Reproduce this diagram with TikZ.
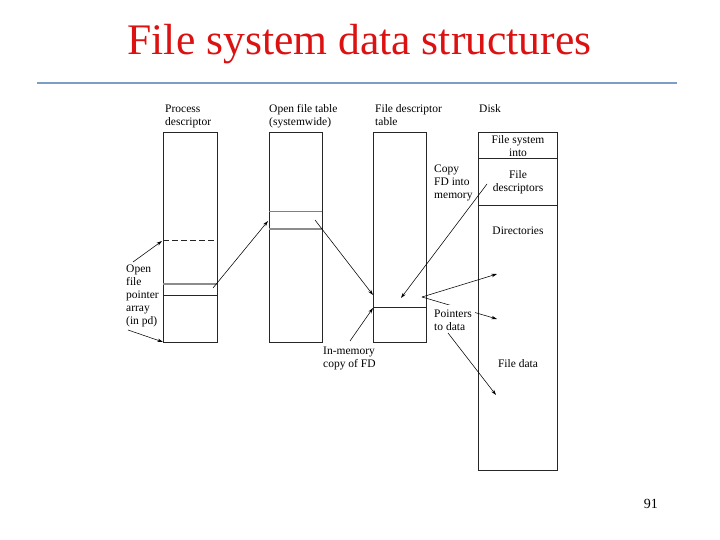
\documentclass[tikz,border=0pt]{standalone}
\usepackage{fontspec}
\setmainfont{Liberation Serif}
\usetikzlibrary{arrows.meta}
\definecolor{titlered}{RGB}{220,18,18}
\definecolor{rulebl}{RGB}{125,157,196}
\begin{document}
\begin{tikzpicture}[x=1pt,y=-1pt,
  col/.style={draw=black!85, line width=0.8pt, anchor=north west, inner sep=0},
  arr/.style={-{Stealth[length=5.5pt,width=3.4pt]}, line width=0.55pt},
  sep/.style={line width=0.8pt, draw=black!85},
  gsep/.style={line width=1.3pt, draw=black!45},
  lbl/.style={inner sep=0, align=left, anchor=north west, font=\fontsize{11.5}{13}\selectfont},
  clbl/.style={inner sep=0, align=center, anchor=north, font=\fontsize{11.5}{13}\selectfont}]
\useasboundingbox (0,0) rectangle (720,540);
% title and rule
\node[text=titlered, font=\fontsize{43.6}{50}\selectfont, anchor=base, inner sep=0] (title) at (359.5,55) {File system data structures};
\draw[rulebl, line width=1.6pt] (37,83) -- (677,83);
% columns
\node[col, minimum width=54pt, minimum height=210pt] (pd) at (163,132) {};
\node[col, minimum width=53pt, minimum height=210pt] (oft) at (269,132) {};
\node[col, minimum width=53pt, minimum height=210pt] (fdt) at (373,132) {};
\node[col, minimum width=79pt, minimum height=338pt] (disk) at (478,132) {};
% internal lines
\draw[sep, dashed, dash pattern=on 6pt off 3pt] (163,240) -- (217,240);
\draw[gsep] (163,284) -- (217,284);
\draw[sep] (163,295) -- (217,295);
\draw[line width=0.6pt, draw=black!50] (269,211) -- (322,211);
\draw[gsep] (269,229) -- (322,229);
\draw[sep] (373,307) -- (426,307);
\draw[sep] (478,158) -- (557,158);
\draw[sep] (478,205) -- (557,205);
% headings
\node[lbl] (hpd) at (165,102.9) {\strut Process\\descriptor};
\node[lbl] (hoft) at (269,102.9) {\strut Open file table\\(systemwide)};
\node[lbl] (hfdt) at (375,102.9) {\strut File descriptor\\table};
\node[lbl] (hdisk) at (479,102.9) {\strut Disk};
% disk labels
\node[clbl] (fsi) at (518,133.9) {\strut File system\\into};
\node[clbl] (fds) at (518,168.9) {\strut File\\descriptors};
\node[clbl] (dirs) at (518,224.9) {\strut Directories};
\node[clbl] (fdata) at (518,357.9) {\strut File data};
% other labels
\node[lbl] (copy) at (434,162.9) {\strut Copy\\FD into\\memory};
\node[lbl] (ofp) at (126,262.9) {\strut Open\\file\\pointer\\array\\(in pd)};
\node[lbl] (inm) at (323,344.9) {\strut In-memory\\copy of FD};
\node[font=\fontsize{14}{16}\selectfont, anchor=base east, inner sep=0] (pg) at (658,508) {91};
% connector end points
\coordinate (a1s) at (133,262); \coordinate (a1e) at (162,241);
\coordinate (a2s) at (128,330); \coordinate (a2e) at (163,342);
\coordinate (a3s) at (213,288); \coordinate (a3e) at (268,221);
\coordinate (a4s) at (315,220); \coordinate (a4e) at (373,295);
\coordinate (a5s) at (350,341); \coordinate (a5e) at (373,308);
\coordinate (a6s) at (487,184); \coordinate (a6e) at (401,298);
\coordinate (po) at (422,297);
\coordinate (a7e) at (497,274);
\coordinate (a8e) at (497,319);
\coordinate (a9s) at (448,333); \coordinate (a9e) at (496,395);
% connectors
\draw[arr] (a1s) -- (a1e);
\draw[arr] (a2s) -- (a2e);
\draw[arr] (a3s) -- (a3e);
\draw[arr] (a4s) -- (a4e);
\draw[arr] (a5s) -- (a5e);
\draw[arr] (a6s) -- (a6e);
\draw[arr] (po) -- (a7e);
\draw[arr] (po) -- (a8e);
% label over the line, with white backing
\node[lbl, fill=white, inner sep=3pt] (ptd) at (431,304.9) {\strut Pointers\\to data};
\draw[arr] (a9s) -- (a9e);
\end{tikzpicture}
\end{document}
